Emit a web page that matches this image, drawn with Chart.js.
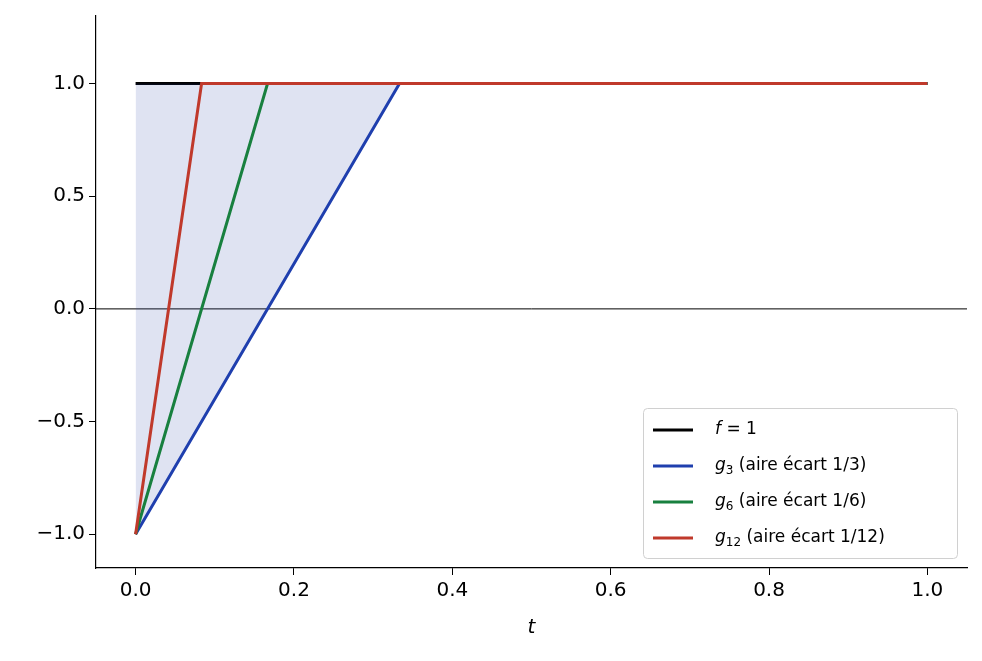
<!DOCTYPE html>
<html>
<head>
<meta charset="utf-8">
<script src="https://cdn.jsdelivr.net/npm/chart.js@4"></script>
<style>
  body { margin: 0; background: #fff; }
  #wrap { width: 982px; height: 661px; }
</style>
</head>
<body>
<div id="wrap"><canvas id="chartContainer"></canvas></div>
<script>
// series points (t, value)
const fPoints = [[0, 1], [1, 1]];
const g3Points = [[0, -1], [1 / 3, 1], [1, 1]];
const g6Points = [[0, -1], [1 / 6, 1], [1, 1]];
const g12Points = [[0, -1], [1 / 12, 1], [1, 1]];
const xTicks = [0, 0.2, 0.4, 0.6, 0.8, 1.0];
const yTicks = [-1, -0.5, 0, 0.5, 1];
const legendItems = [
  { base: 'f', sub: '', rest: ' = 1', color: '#000000' },
  { base: 'g', sub: '3', rest: ' (aire écart 1/3)', color: '#1f3fae' },
  { base: 'g', sub: '6', rest: ' (aire écart 1/6)', color: '#18803f' },
  { base: 'g', sub: '12', rest: ' (aire écart 1/12)', color: '#c0392b' }
];

const toXY = pts => pts.map(p => ({ x: p[0], y: p[1] }));
const FONT = '"DejaVu Sans", sans-serif';

const overlay = {
  id: 'overlay',
  beforeDatasetsDraw(chart) {
    const { ctx, chartArea, scales } = chart;
    const y0 = scales.y.getPixelForValue(0);
    ctx.save();
    ctx.strokeStyle = '#000';
    ctx.lineWidth = 1;
    ctx.beginPath();
    ctx.moveTo(chartArea.left, y0);
    ctx.lineTo(chartArea.right, y0);
    ctx.stroke();
    ctx.restore();
  },
  afterDraw(chart) {
    const { ctx, chartArea } = chart;
    ctx.save();
    // axis title
    ctx.fillStyle = '#000';
    ctx.font = 'italic 20px ' + FONT;
    ctx.textAlign = 'center';
    ctx.textBaseline = 'middle';
    ctx.fillText('t', (chartArea.left + chartArea.right) / 2, 628);
    ctx.textAlign = 'left';
    // legend
    const w = 314, h = 150;
    const x = chartArea.right - 10 - w, y = chartArea.bottom - 10 - h;
    ctx.fillStyle = 'rgba(255,255,255,0.85)';
    ctx.strokeStyle = '#d0d0d0';
    ctx.lineWidth = 1;
    ctx.beginPath();
    ctx.roundRect(x + 0.5, y + 0.5, w, h, 4);
    ctx.fill();
    ctx.stroke();
    legendItems.forEach((it, i) => {
      const cy = y + 22 + i * 36;
      ctx.strokeStyle = it.color;
      ctx.lineWidth = 3;
      ctx.beginPath();
      ctx.moveTo(x + 10, cy);
      ctx.lineTo(x + 50, cy);
      ctx.stroke();
      ctx.fillStyle = '#000';
      ctx.textBaseline = 'middle';
      let tx = x + 72;
      ctx.font = 'italic 17px ' + FONT;
      ctx.fillText(it.base, tx, cy);
      tx += ctx.measureText(it.base).width;
      if (it.sub) {
        ctx.font = '12px ' + FONT;
        ctx.fillText(it.sub, tx, cy + 5);
        tx += ctx.measureText(it.sub).width;
      }
      ctx.font = '17px ' + FONT;
      ctx.fillText(it.rest, tx, cy);
    });
    ctx.restore();
  }
};

const lineDs = (label, pts, color, order, extra) => Object.assign({
  label, data: toXY(pts), borderColor: color, borderWidth: 3, order,
  pointRadius: 0, showLine: true, fill: false, tension: 0
}, extra || {});

new Chart(document.getElementById('chartContainer'), {
  type: 'scatter',
  data: {
    datasets: [
      lineDs('f = 1', fPoints, '#000000', 4),
      lineDs('g3', g3Points, '#1f3fae', 3, { fill: { target: 0 }, backgroundColor: 'rgba(40,70,170,0.15)' }),
      lineDs('g6', g6Points, '#18803f', 2),
      lineDs('g12', g12Points, '#c0392b', 1)
    ]
  },
  options: {
    responsive: true,
    maintainAspectRatio: false,
    animation: false,
    layout: { padding: { top: 15, right: 15, left: 0, bottom: 0 } },
    plugins: { legend: { display: false }, tooltip: { enabled: false } },
    scales: {
      x: {
        type: 'linear', min: -0.05, max: 1.05,
        afterBuildTicks: s => { s.ticks = xTicks.map(v => ({ value: v })); },
        ticks: { color: '#000', font: { family: FONT, size: 20 }, callback: v => v.toFixed(1), padding: 4 },
        grid: { drawOnChartArea: false, tickLength: 7, color: '#000' },
        border: { color: '#000', width: 1.2 },
        afterFit: s => { s.height = 93; }
      },
      y: {
        min: -1.15, max: 1.3,
        afterBuildTicks: s => { s.ticks = yTicks.map(v => ({ value: v })); },
        ticks: { color: '#000', font: { family: FONT, size: 20 }, callback: v => v.toFixed(1).replace('-', '\u2212'), padding: 4 },
        grid: { drawOnChartArea: false, tickLength: 7, color: '#000' },
        border: { color: '#000', width: 1.2 },
        afterFit: s => { s.width = 96; }
      }
    }
  },
  plugins: [overlay]
});
</script>
</body>
</html>
